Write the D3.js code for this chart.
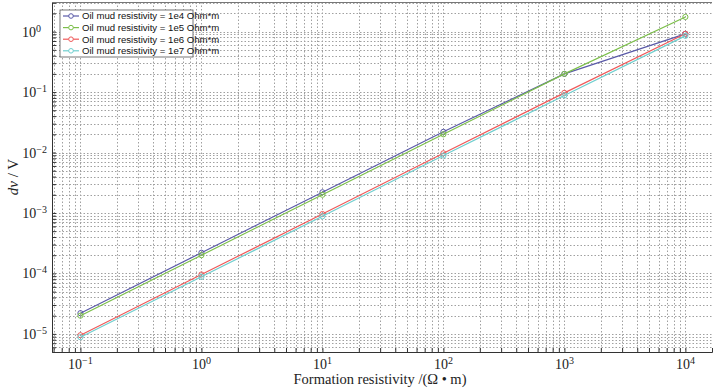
<!DOCTYPE html>
<html>
<head>
<meta charset="utf-8">
<script src="https://cdn.jsdelivr.net/npm/d3@7"></script>
<style>
  body { margin: 0; background: #fff; }
  svg { display: block; }
  .tick-label { font-family: "Liberation Serif", "DejaVu Serif", serif; font-size: 14px; fill: #222; }
  .legend text { font-family: "Liberation Sans", Arial, sans-serif; font-size: 9.6px; fill: #111; }
</style>
</head>
<body>
<div id="chart"></div>
<script>
// formation resistivity (x) and dv/V for each oil mud resistivity
const resistivity = [0.1, 1, 10, 100, 1000, 10000];
const seriesNames = ["Oil mud resistivity = 1e4 Ohm*m", "Oil mud resistivity = 1e5 Ohm*m",
                     "Oil mud resistivity = 1e6 Ohm*m", "Oil mud resistivity = 1e7 Ohm*m"];
const mud1e4 = [2.2e-5, 2.2e-4, 2.2e-3, 2.2e-2, 0.2, 0.92];
const mud1e5 = [2.0e-5, 2.0e-4, 2.0e-3, 2.0e-2, 0.2, 1.75];
const mud1e6 = [9.5e-6, 9.6e-5, 9.6e-4, 9.7e-3, 0.097, 0.92];
const mud1e7 = [8.8e-6, 8.8e-5, 8.8e-4, 8.9e-3, 0.088, 0.85];
const xDecades = [-1, 0, 1, 2, 3, 4];
const yDecades = [-5, -4, -3, -2, -1, 0];
const colors = ["#5a5aa8", "#7cbf4a", "#ef5a5a", "#6fcfcf"];

const width = 717, height = 388,
    margin = ({ top: 2, right: 5, bottom: 36, left: 52 });

const svg = d3.select("#chart").append("svg")
    .attr("width", width).attr("height", height);

const x = d3.scaleLog()
    .domain([Math.pow(10, -1.235), Math.pow(10, 4.22)])
    .range([margin.left, width - margin.right]);
const y = d3.scaleLog()
    .domain([Math.pow(10, -5.3), Math.pow(10, 0.49)])
    .range([height - margin.bottom, margin.top]);

// grid values: every 1..9 inside the visible decades
let xGrid = [], yGrid = [];
for (let e = -2; e <= 4; e++) for (let m = 1; m < 10; m++) {
    let v = m * Math.pow(10, e);
    if (v >= x.domain()[0] && v <= x.domain()[1]) xGrid.push(v);
}
for (let e = -6; e <= 0; e++) for (let m = 1; m < 10; m++) {
    let v = m * Math.pow(10, e);
    if (v >= y.domain()[0] && v <= y.domain()[1]) yGrid.push(v);
}

const grid = svg.append("g").attr("stroke", "#a0a0a0").attr("stroke-width", 1)
    .attr("stroke-dasharray", "1.5,2");
grid.selectAll(".gx").data(xGrid).join("line")
    .attr("x1", d => Math.round(x(d)) + 0.5).attr("x2", d => Math.round(x(d)) + 0.5)
    .attr("y1", margin.top).attr("y2", height - margin.bottom);
grid.selectAll(".gy").data(yGrid).join("line")
    .attr("y1", d => Math.round(y(d)) + 0.5).attr("y2", d => Math.round(y(d)) + 0.5)
    .attr("x1", margin.left).attr("x2", width - margin.right);

// axes with inward ticks
svg.append("g")
    .attr("transform", `translate(0,${height - margin.bottom})`)
    .call(d3.axisBottom(x).tickValues(xGrid).tickSize(-4).tickFormat(""))
    .call(g => g.select(".domain").attr("stroke", "#333"))
    .call(g => g.selectAll(".tick line").attr("stroke", "#333"));
svg.append("g")
    .attr("transform", `translate(${margin.left},0)`)
    .call(d3.axisLeft(y).tickValues(yGrid).tickSize(-4).tickFormat(""))
    .call(g => g.select(".domain").attr("stroke", "#333"))
    .call(g => g.selectAll(".tick line").attr("stroke", "#333"));
svg.append("line").attr("x1", margin.left).attr("x2", width - margin.right)
    .attr("y1", margin.top + 0.5).attr("y2", margin.top + 0.5).attr("stroke", "#777");

// tick labels 10^n
const xl = svg.append("g").selectAll("text").data(xDecades).join("text")
    .attr("class", "tick-label").attr("x", d => x(Math.pow(10, d)))
    .attr("y", height - margin.bottom + 17).attr("text-anchor", "middle");
xl.append("tspan").text("10");
xl.append("tspan").attr("dy", -5).attr("font-size", 10).text(d => d < 0 ? "\u2212" + (-d) : d);

const yl = svg.append("g").selectAll("text").data(yDecades).join("text")
    .attr("class", "tick-label")
    .attr("y", d => y(Math.pow(10, d)) + 5).attr("text-anchor", "end");
yl.append("tspan").text("10");
yl.append("tspan").attr("dy", -5).attr("font-size", 10).text(d => d < 0 ? "\u2212" + (-d) : d);
yl.attr("x", d => margin.left - (d < 0 ? 5 : 11));

// axis titles
svg.append("text").attr("class", "tick-label")
    .attr("x", 380).attr("y", height - 4)
    .attr("text-anchor", "middle").style("font-size", "14.5px")
    .text("Formation resistivity /(\u03A9 \u2022 m)");
const yt = svg.append("text").attr("class", "tick-label").style("font-size", "15px")
    .attr("transform", `translate(18,177) rotate(-90)`)
    .attr("text-anchor", "middle");
yt.append("tspan").attr("font-style", "italic").text("dv");
yt.append("tspan").text(" / V");

// lines and markers
const allSeries = [mud1e4, mud1e5, mud1e6, mud1e7];
const line = d3.line().x((d, i) => x(resistivity[i])).y(d => y(d));
allSeries.forEach((vals, k) => {
    svg.append("path").datum(vals).attr("d", line)
        .attr("fill", "none").attr("stroke", colors[k]).attr("stroke-width", 1.2);
    svg.append("g").selectAll("circle").data(vals).join("circle")
        .attr("cx", (d, i) => x(resistivity[i])).attr("cy", d => y(d)).attr("r", 2.6)
        .attr("fill", "none").attr("stroke", colors[k]).attr("stroke-width", 1);
});

// legend
const lg = svg.append("g").attr("class", "legend").attr("transform", "translate(60,10)");
lg.append("rect").attr("width", 133).attr("height", 47)
    .attr("fill", "#fff").attr("stroke", "#555").attr("stroke-width", 0.8);
seriesNames.forEach((name, k) => {
    const row = lg.append("g").attr("transform", `translate(0,${6 + k * 11.6})`);
    row.append("line").attr("x1", 3).attr("x2", 19).attr("stroke", colors[k]).attr("stroke-width", 1.2);
    row.append("circle").attr("cx", 11).attr("r", 2.3).attr("fill", "#fff").attr("stroke", colors[k]);
    row.append("text").attr("x", 22).attr("y", 3.4).text(name);
});
</script>
</body>
</html>
